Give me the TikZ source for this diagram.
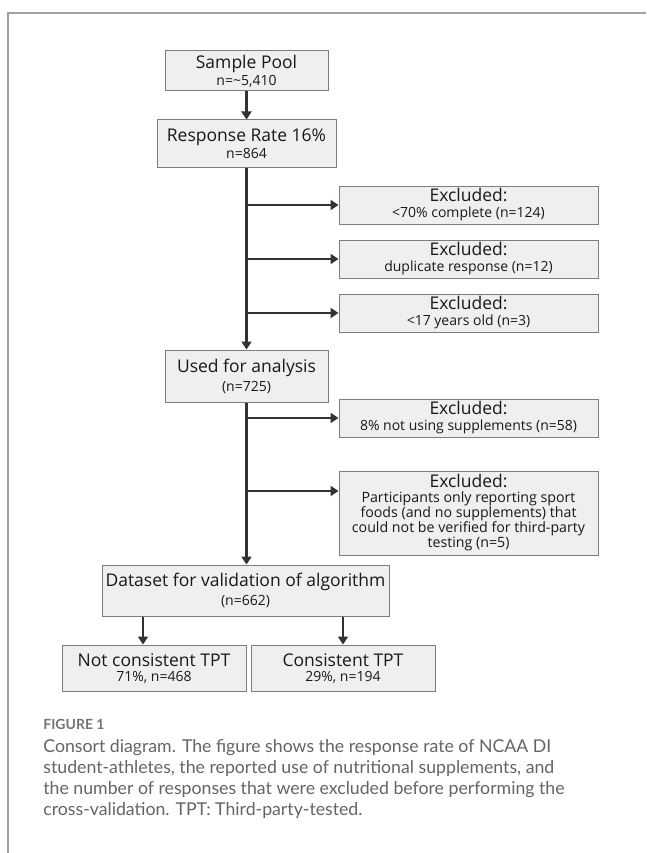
\documentclass[tikz,border=0pt]{standalone}
\usepackage{fontspec}
\setmainfont{Open Sans}
\newfontfamily\capfont{Lato}
\usetikzlibrary{arrows.meta}

\definecolor{boxfill}{RGB}{239,239,239}
\definecolor{boxline}{RGB}{125,125,125}
\definecolor{arrowcol}{RGB}{50,50,50}
\definecolor{framecol}{RGB}{160,160,160}
\definecolor{captext}{RGB}{100,100,100}

\newcommand{\hdtxt}{\fontsize{17.5}{19}\selectfont}
\newcommand{\subtxt}{\fontsize{14}{17}\selectfont}
\newcommand{\smalltxt}{\fontsize{14.2}{15}\selectfont}

\tikzset{every picture/.style={line width=0.75pt}}
\tikzset{
  box/.style={draw=boxline, fill=boxfill, line width=1pt, align=center, inner sep=0pt, text=black!90, font=\subtxt},
  exbox/.style={box, minimum width=259pt, minimum height=38pt},
  flow/.style={draw=arrowcol, line width=2.2pt, -{Triangle[length=8pt,width=10pt]}},
}

\begin{document}
\begin{tikzpicture}[x=1pt,y=1pt,yscale=-1,xscale=1]
\useasboundingbox (0,0) rectangle (646,853);

% frame of the figure panel
\draw [framecol, line width=1.5pt] (8,853) -- (8,13) -- (646,13);

% main column
\node [box, minimum width=163pt, minimum height=40pt] (pool) at (246.5,71) {{\hdtxt Sample Pool}\\n=\textasciitilde5,410};
\node [box, minimum width=179pt, minimum height=48pt] (resp) at (246.5,144) {{\hdtxt Response Rate 16\%}\\n=864};
\node [box, minimum width=163pt, minimum height=52pt] (used) at (246.5,376) {{\hdtxt Used for analysis}\\[2pt](n=725)};
\node [box, minimum width=287pt, minimum height=51pt] (data) at (245.5,590.5) {{\hdtxt Dataset for validation of algorithm}\\[2pt](n=662)};
\node [box, minimum width=184pt, minimum height=46pt] (notc) at (154,668) {{\hdtxt Not consistent TPT}\\[-2pt]71\%, n=468};
\node [box, minimum width=184pt, minimum height=46pt] (cons) at (343,668) {{\hdtxt Consistent TPT}\\[-2pt]29\%, n=194};

% exclusions
\node [exbox] (ex1) at (468.5,205) {{\hdtxt Excluded:}\\[-1pt]<70\% complete (n=124)};
\node [exbox] (ex2) at (468.5,259) {{\hdtxt Excluded:}\\[-1pt]duplicate response (n=12)};
\node [exbox] (ex3) at (468.5,313) {{\hdtxt Excluded:}\\[-1pt]<17 years old (n=3)};
\node [exbox] (ex4) at (468.5,418) {{\hdtxt Excluded:}\\[-1pt]8\% not using supplements (n=58)};
\node [exbox, minimum height=84pt, font=\smalltxt] (ex5) at (468.5,513) {{\hdtxt Excluded:}\\Participants only reporting sport\\foods (and no supplements) that\\could not be verified for third-party\\testing (n=5)};

\coordinate (fork5) at (247,491);
\coordinate (splitL) at (143,0);
\coordinate (splitR) at (343,0);

% arrows
\draw [flow] (pool.south) -- (resp.south |- pool.south) -- (resp.north);
\draw [flow] (resp.south) -- (used.north);
\draw [flow] (resp.south |- ex1.west) -- (ex1.west);
\draw [flow] (resp.south |- ex2.west) -- (ex2.west);
\draw [flow] (resp.south |- ex3.west) -- (ex3.west);
\draw [flow] (used.south) -- (data.north -| used.south);
\draw [flow] (used.south |- ex4.west) -- (ex4.west);
\draw [flow] (fork5) -- (fork5 -| ex5.west);
\draw [flow] (data.south -| splitL) -- (notc.north -| splitL);
\draw [flow] (data.south -| splitR) -- (cons.north -| splitR);

% caption
\node [anchor=north west, inner sep=0pt, text=captext!90, font=\capfont\bfseries\fontsize{14}{16}\selectfont] (fig) at (43,719) {FIGURE 1};
\node [anchor=north west, inner sep=0pt, align=left, text=captext, font=\capfont\fontsize{17.7}{21}\selectfont] (cap) at (43,739) {Consort diagram. The figure shows the response rate of NCAA DI\\student-athletes, the reported use of nutritional supplements, and\\the number of responses that were excluded before performing the\\cross-validation. TPT: Third-party-tested.};

\end{tikzpicture}
\end{document}
